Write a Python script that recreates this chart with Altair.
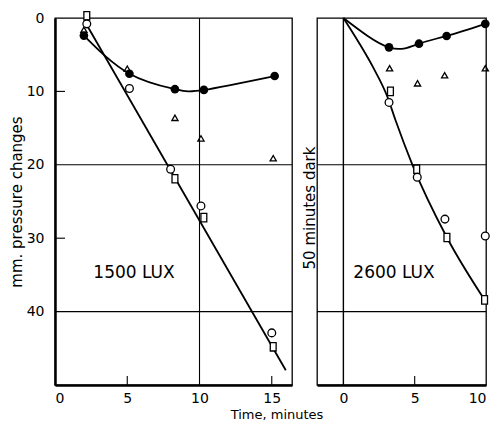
import altair as alt
import pandas as pd

# ---------------- data ----------------
# 1500 LUX panel
l_filled_x = [2.0, 5.15, 8.3, 10.3, 15.2]
l_filled_y = [2.4, 7.6, 9.7, 9.8, 7.9]
l_open_x = [2.2, 5.15, 8.0, 10.1, 15.0]
l_open_y = [0.8, 9.6, 20.6, 25.6, 42.9]
l_square_x = [2.2, 8.3, 10.3, 15.1]
l_square_y = [-0.3, 21.9, 27.2, 44.8]
l_tri_x = [2.0, 5.0, 8.3, 10.1, 15.1]
l_tri_y = [1.6, 6.9, 13.6, 16.4, 19.1]
l_line_x = [2.2, 15.97]
l_line_y = [0.95, 48.0]

# 2600 LUX panel
r_filled_x = [3.2, 5.3, 7.24, 9.95]
r_filled_y = [4.0, 3.5, 2.45, 0.8]
r_open_x = [3.2, 5.18, 7.12, 9.95]
r_open_y = [11.5, 21.7, 27.4, 29.7]
r_square_x = [3.3, 5.14, 7.26, 9.9]
r_square_y = [10.0, 20.6, 29.9, 38.4]
r_tri_x = [3.24, 5.2, 7.1, 9.95]
r_tri_y = [6.85, 8.9, 7.8, 6.85]
r_dark_curve_x = [0.0, 3.2, 5.3, 7.24, 9.95]
r_dark_curve_y = [0.0, 4.0, 3.5, 2.45, 0.8]
r_light_curve_x = [0.0, 1.1, 2.05, 3.1, 3.65, 4.84, 7.26, 9.9]
r_light_curve_y = [0.0, 3.4, 6.6, 10.8, 13.9, 20.0, 29.9, 38.4]

grid_y = [20, 40]
left_grid_x = [10]
right_zero_x = [0]
y_tick_marks = [10, 30]
left_x_tick_marks = [5, 15]
right_x_tick_marks = [5]

y_labels = [0, 10, 20, 30, 40]
left_x_labels = [0, 5, 10, 15]
right_x_labels = [0, 5, 10]

FONT = "DejaVu Sans"
LW, RW, H = 237, 169, 367


def df(xs, ys):
    return pd.DataFrame({"x": xs, "y": ys})


y_scale = alt.Scale(domain=[0, 50], reverse=True, nice=False, zero=False)
y_left = alt.Y("y:Q", scale=y_scale,
               axis=alt.Axis(values=y_labels, tickSize=0, labelPadding=11,
                             grid=False, domainWidth=2.5, domainColor="black",
                             title="mm. pressure changes", titlePadding=2))
y_right = alt.Y("y:Q", scale=y_scale, axis=None)

x_left = alt.X("x:Q", scale=alt.Scale(domain=[0, 16.4], nice=False, zero=False),
               axis=alt.Axis(values=left_x_labels, tickSize=0, labelPadding=6,
                             grid=False, domainWidth=2.5, domainColor="black",
                             title=None))
x_right = alt.X("x:Q", scale=alt.Scale(domain=[-1.85, 10], nice=False, zero=False),
                axis=alt.Axis(values=right_x_labels, tickSize=0, labelPadding=6,
                              grid=False, domainWidth=2.5, domainColor="black",
                              title=None))

rectpath = "M-0.7,-1L0.7,-1L0.7,1L-0.7,1Z"


def points(xe, ye, xs, ys, kind):
    d = df(xs, ys)
    if kind == "filled":
        m = alt.Chart(d).mark_point(shape="circle", filled=True, size=75,
                                    color="black", opacity=1)
    elif kind == "open":
        m = alt.Chart(d).mark_point(shape="circle", filled=False, size=60,
                                    color="black", strokeWidth=1.3, opacity=1,
                                    fill="white", fillOpacity=1)
    elif kind == "square":
        m = alt.Chart(d).mark_point(shape=rectpath, filled=False, size=70,
                                    color="black", strokeWidth=1.3, opacity=1,
                                    fill="white", fillOpacity=1)
    else:
        m = alt.Chart(d).mark_point(shape="triangle-up", filled=False, size=38,
                                    color="black", strokeWidth=1.3, opacity=1)
    return m.encode(x=xe, y=ye)


def hrules(width, ye):
    return alt.Chart(pd.DataFrame({"y": grid_y})).mark_rule(
        color="black", strokeWidth=1.1).encode(
        x=alt.value(0), x2=alt.value(width), y=ye)


# ---------------- left panel ----------------
left_layers = [
    hrules(LW, y_left),
    alt.Chart(pd.DataFrame({"x": left_grid_x})).mark_rule(
        color="black", strokeWidth=1.1).encode(
        x=x_left, y=alt.value(0), y2=alt.value(H)),
    alt.Chart(pd.DataFrame({"y": y_tick_marks})).mark_rule(
        color="black", strokeWidth=1.1).encode(
        x=alt.value(0), x2=alt.value(10), y=y_left),
    alt.Chart(pd.DataFrame({"x": left_x_tick_marks})).mark_rule(
        color="black", strokeWidth=1.1).encode(
        x=x_left, y=alt.value(H), y2=alt.value(H - 9)),
    alt.Chart(df(l_line_x, l_line_y)).mark_line(
        color="black", strokeWidth=1.8).encode(x=x_left, y=y_left),
    alt.Chart(df(l_filled_x, l_filled_y)).mark_line(
        color="black", strokeWidth=1.8, interpolate="natural").encode(
        x=x_left, y=y_left),
    points(x_left, y_left, l_tri_x, l_tri_y, "tri"),
    points(x_left, y_left, l_square_x, l_square_y, "square"),
    points(x_left, y_left, l_open_x, l_open_y, "open"),
    points(x_left, y_left, l_filled_x, l_filled_y, "filled"),
    alt.Chart(pd.DataFrame({"t": ["1500 LUX"]})).mark_text(
        font=FONT, fontSize=17, color="black", align="center",
        baseline="middle").encode(text="t:N", x=alt.value(79), y=alt.value(255)),
    alt.Chart(pd.DataFrame({"t": ["Time, minutes"]})).mark_text(
        font=FONT, fontSize=13, color="black", align="center",
        baseline="middle").encode(text="t:N", x=alt.value(222), y=alt.value(397)),
    alt.Chart(pd.DataFrame({"t": ["50 minutes dark"]})).mark_text(
        font=FONT, fontSize=15, color="black", align="center",
        baseline="middle", angle=270).encode(
        text="t:N", x=alt.value(255), y=alt.value(190)),
]
left = alt.layer(*left_layers).properties(width=LW, height=H)

# ---------------- right panel ----------------
right_layers = [
    hrules(RW, y_right),
    alt.Chart(pd.DataFrame({"x": right_zero_x})).mark_rule(
        color="black", strokeWidth=1.4).encode(
        x=x_right, y=alt.value(0), y2=alt.value(H)),
    alt.Chart(pd.DataFrame({"x": right_x_tick_marks})).mark_rule(
        color="black", strokeWidth=1.1).encode(
        x=x_right, y=alt.value(H), y2=alt.value(H - 9)),
    alt.Chart(df(r_light_curve_x, r_light_curve_y)).mark_line(
        color="black", strokeWidth=1.8, interpolate="monotone").encode(
        x=x_right, y=y_right),
    alt.Chart(df(r_dark_curve_x, r_dark_curve_y)).mark_line(
        color="black", strokeWidth=1.8, interpolate="natural").encode(
        x=x_right, y=y_right),
    points(x_right, y_right, r_tri_x, r_tri_y, "tri"),
    points(x_right, y_right, r_square_x, r_square_y, "square"),
    points(x_right, y_right, r_open_x, r_open_y, "open"),
    points(x_right, y_right, r_filled_x, r_filled_y, "filled"),
    alt.Chart(pd.DataFrame({"t": ["2600 LUX"]})).mark_text(
        font=FONT, fontSize=17, color="black", align="center",
        baseline="middle").encode(text="t:N", x=alt.value(77), y=alt.value(255)),
]
right = alt.layer(*right_layers).properties(width=RW, height=H)

chart = alt.hconcat(left, right, spacing=25, bounds="flush").properties(
    padding={"left": 0, "top": 0, "right": 0, "bottom": 0},
    background="white",
).configure_view(
    stroke="black", strokeWidth=1.3
).configure_axis(
    labelFont=FONT, labelFontSize=14, labelColor="black",
    titleFont=FONT, titleFontSize=15, titleFontWeight="normal",
    titleColor="black",
)

chart.save("out.html", embed_options={"renderer": "svg", "actions": False})
